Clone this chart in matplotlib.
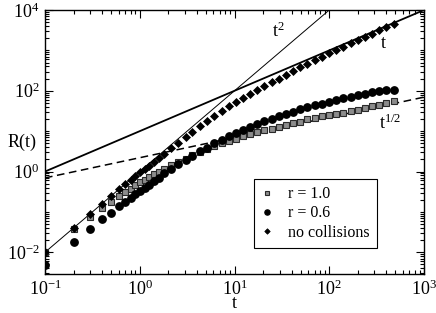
import matplotlib
matplotlib.use("Agg")
from matplotlib import pyplot as plt
from matplotlib.ticker import LogLocator, FixedLocator, NullFormatter
import numpy as np

plt.rcParams['font.family'] = ['Liberation Serif', 'DejaVu Serif']
plt.rcParams['mathtext.fontset'] = 'custom'
plt.rcParams['mathtext.rm'] = 'Liberation Serif'
plt.rcParams['mathtext.it'] = 'Liberation Serif:italic'

# sampling times
t = [0.1, 0.2, 0.3, 0.4, 0.5, 0.6, 0.7, 0.8, 0.9, 1.0,
     1.136, 1.267, 1.424, 1.597,
     1.8, 2.15, 2.55, 3.05, 3.6, 4.3, 5.1, 6.1, 7.3, 8.65, 10.3, 12.3, 14.6,
     17.4, 20.7, 24.6, 29.3, 34.9, 41.5, 49.5, 58.9, 70, 83.4, 99.3, 118,
     141, 168, 199, 237, 283, 336, 400, 477]

r_one = [0.01, 0.037, 0.0757, 0.123, 0.178, 0.244, 0.312, 0.379, 0.457, 0.543,
         0.633, 0.743, 0.857, 1.0,
         1.17, 1.43, 1.75, 2.10, 2.54, 3.01, 3.68, 4.36, 5.03, 5.64, 6.51, 7.38,
         8.27, 9.27, 10.4, 11.6, 12.8, 14.1, 15.5, 17.2, 19.5, 21.3, 23.1, 24.9,
         26.4, 27.9, 30.7, 33.1, 36.5, 40.9, 45.3, 49.9, 54.4]

r_six = [0.00475, 0.018, 0.0386, 0.0684, 0.0962, 0.138, 0.178, 0.224, 0.273, 0.334,
         0.397, 0.471, 0.575, 0.702,
         0.908, 1.173, 1.517, 1.94, 2.49, 3.19, 3.89, 5.03, 6.14, 7.50, 9.01,
         10.7, 12.7, 14.9, 17.4, 19.8, 23.1, 26.4, 30.4, 34.5, 38.8, 43.3, 48.3,
         53.8, 59.6, 65.7, 71.6, 78.0, 84.5, 91.0, 96.9, 102, 106]

no_coll = [0.01, 0.04, 0.09, 0.16, 0.25, 0.36, 0.48, 0.62, 0.78, 0.95,
           1.14, 1.39, 1.73, 2.20,
           2.79, 3.78, 5.18, 7.08, 9.70, 13.3, 18.2, 24.2, 32.2, 40.9, 51.4,
           64.6, 81.6, 102.6, 128, 161, 200, 248, 307, 379, 466, 569, 691, 844,
           1018, 1230, 1483, 1791, 2163, 2611, 3153, 3785, 4543]

guide_t = [0.1, 1000]

fig = plt.figure(figsize=(4.36, 3.13), dpi=100)
ax = fig.add_axes([0.1032, 0.1246, 0.8693, 0.8434])

# guide lines t^2, t, t^1/2
ax.plot(guide_t, [tt ** 2 for tt in guide_t], color='black', lw=0.7)
ax.plot(guide_t, [10 * tt for tt in guide_t], color='black', lw=1.3)
ax.plot(guide_t, [2.2 * tt ** 0.5 for tt in guide_t], color='black', lw=1.1,
        ls=(0, (5, 3)))

ax.plot(t, r_one, ls='none', marker='s', ms=4.5, mfc='#8c8c8c', mec='#2a2a2a',
        mew=0.8, label='r = 1.0')
ax.plot(t, r_six, ls='none', marker='o', ms=5.3, mfc='black', mec='black',
        label='r = 0.6')
ax.plot(t, no_coll, ls='none', marker='D', ms=4.0, mfc='black', mec='black',
        mew=0.5, label='no collisions')

ax.set_xscale('log')
ax.set_yscale('log')
ax.set_xlim(0.1, 1000)
ax.set_ylim(2.9e-3, 1e4)

ax.yaxis.set_major_locator(FixedLocator([1e-2, 1, 1e2, 1e4]))
ax.yaxis.set_minor_locator(LogLocator(base=10, subs=np.arange(1, 10), numticks=20))
ax.yaxis.set_minor_formatter(NullFormatter())
ax.xaxis.set_major_locator(LogLocator(base=10, numticks=10))
ax.xaxis.set_minor_locator(LogLocator(base=10, subs=np.arange(2, 10), numticks=20))
ax.xaxis.set_minor_formatter(NullFormatter())

ax.tick_params(which='both', direction='in', top=True, right=True,
               labelsize=13, width=0.8)
ax.tick_params(which='major', length=6, pad=4)
ax.tick_params(which='minor', length=3)
for s in ax.spines.values():
    s.set_linewidth(1.0)

ax.set_xlabel('t', fontsize=13, labelpad=-3)
ax.set_ylabel('R(t)', fontsize=13, rotation=0, va='center', ha='center')
ax.yaxis.set_label_coords(-0.06, 0.50)

ax.text(28.8, 2950, r'$\mathrm{t}^{2}$', fontsize=13, ha='center', va='center')
ax.text(369, 1510, 't', fontsize=13, ha='center', va='center')
ax.text(437, 15.3, r'$\mathrm{t}^{1/2}$', fontsize=13, ha='center', va='center')

leg = ax.legend(loc='upper left', bbox_to_anchor=(0.551, 0.36), borderaxespad=0,
                fontsize=11.5, frameon=True, fancybox=False, framealpha=1,
                edgecolor='black', handlelength=0.8, handletextpad=0.9,
                labelspacing=0.2, borderpad=0.45, markerscale=0.7)
leg.get_frame().set_linewidth(0.8)

fig.savefig('out.png', dpi=100)
